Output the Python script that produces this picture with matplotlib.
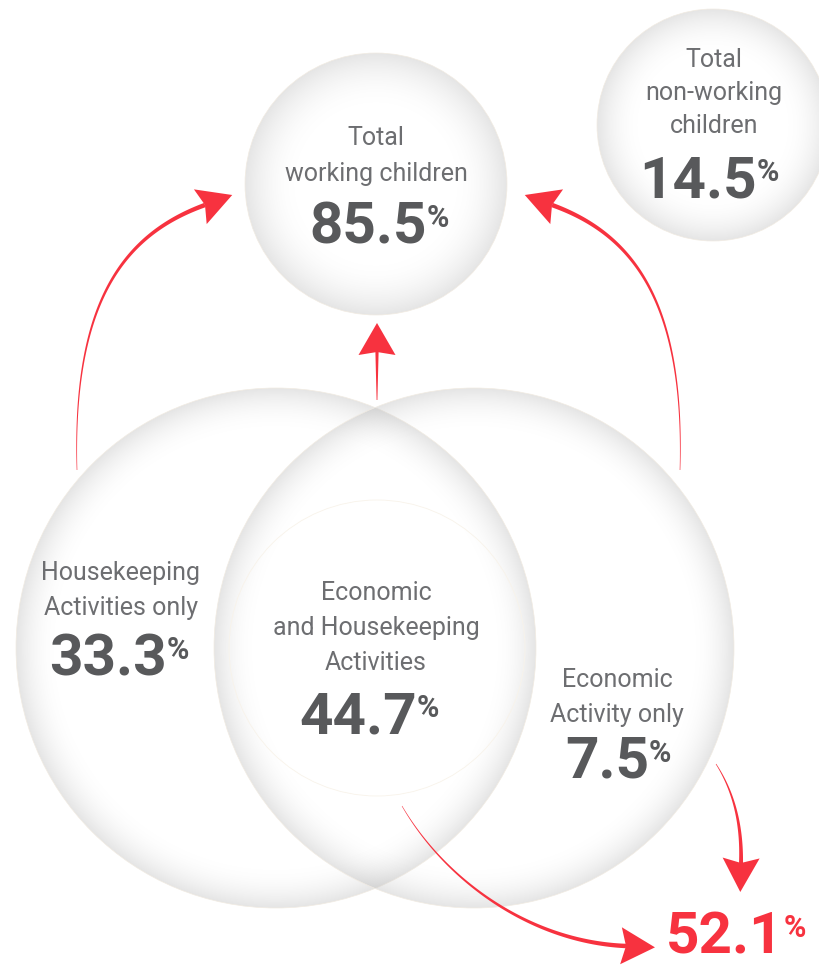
import numpy as np
import matplotlib.pyplot as plt
from matplotlib.patches import Circle, Polygon

# ── Data: share of children by activity (%) ──────────────────────────
group_lines = [
    ["Total", "working children"],
    ["Total", "non-working", "children"],
    ["Housekeeping", "Activities only"],
    ["Economic", "and Housekeeping", "Activities"],
    ["Economic", "Activity only"],
]
group_shares = [85.5, 14.5, 33.3, 44.7, 7.5]
economic_total = 52.1

# ── Layout (pixel coordinates, y downwards) ──────────────────────────
bubble_xy = [(376, 184), (713, 125), (276, 648), (474, 648)]
bubble_r = [131, 116, 260, 260]
bubble_band = [55, 45, 42, 42]

label_x = [376, 714, 121, 376, 617]
label_top = [145, 67, 580, 600, 687]
label_step = [36, 33, 35, 35, 35]
num_x = [427, 757, 167, 417, 649]
num_y = [243, 197, 675, 733, 778]
total_x, total_y = 784, 953

RED = '#f7323f'
LABEL = '#6d6e71'
NUMBER = '#58595b'
FONT = ['Roboto', 'DejaVu Sans']


def bubble(ax, cx, cy, r, band):
    n = 500
    g = np.linspace(-1, 1, n)
    xx, yy = np.meshgrid(g, g)
    t = np.hypot(xx, yy)
    t0 = 1 - band / r
    s = np.clip((t - t0) / (1 - t0), 0, 1) ** 2.0
    img = np.zeros((n, n, 4))
    img[..., :3] = 0.72
    img[..., 3] = 0.36 * s
    im = ax.imshow(img, extent=(cx - r, cx + r, cy + r, cy - r),
                   interpolation='bilinear', aspect='auto', zorder=1)
    im.set_clip_path(Circle((cx, cy), r, transform=ax.transData))
    ax.add_patch(Circle((cx, cy), r, fill=False, ec='#f1ebe2', lw=0.5, zorder=1))


def bezier(P, n=120):
    P = np.asarray(P, float)
    t = np.linspace(0, 1, n)[:, None]
    if len(P) == 2:
        return (1 - t) * P[0] + t * P[1]
    return ((1 - t) ** 3 * P[0] + 3 * (1 - t) ** 2 * t * P[1]
            + 3 * (1 - t) * t ** 2 * P[2] + t ** 3 * P[3])


def arrow(ax, pts, w0, w1, head_len=29, head_back=5, head_w=18.5):
    c = bezier(pts)
    d = np.gradient(c, axis=0)
    d /= np.linalg.norm(d, axis=1)[:, None]
    nrm = np.column_stack([-d[:, 1], d[:, 0]])
    w = np.linspace(w0, w1, len(c))[:, None] / 2
    shaft = np.vstack([c + nrm * w, (c - nrm * w)[::-1]])
    ax.add_patch(Polygon(shaft, closed=True, fc=RED, ec='none', zorder=3))
    e, u, v = c[-1], d[-1], nrm[-1]
    head = [e + u * head_len, e - u * head_back + v * head_w, e,
            e - u * head_back - v * head_w]
    ax.add_patch(Polygon(head, closed=True, fc=RED, ec='none', zorder=3))


fig = plt.figure(figsize=(8.2, 9.67), dpi=100)
ax = fig.add_axes([0, 0, 1, 1])

for (cx, cy), r, band in zip(bubble_xy, bubble_r, bubble_band):
    bubble(ax, cx, cy, r, band)

# faint inner ring of the overlap
ax.add_patch(Circle((377, 648), 148, fill=False, ec='#f8f3ea', lw=0.6, zorder=1))

# arrows
arrow(ax, [(77, 470), (72, 300), (125, 234), (205, 205)], 0.6, 4.5)
arrow(ax, [(680, 470), (685, 300), (632, 234), (552, 205)], 0.6, 4.5)
arrow(ax, [(377, 400), (377, 352)], 0.8, 3.2, head_back=3)
arrow(ax, [(716, 764), (734, 792), (742, 825), (741, 863)], 0.6, 4.0)
arrow(ax, [(402, 806), (445, 880), (530, 942), (626, 946)], 0.5, 4.5)

# labels and shares
for lines, share, lx, ly, step, nx, ny in zip(group_lines, group_shares, label_x,
                                              label_top, label_step, num_x, num_y):
    for i, line in enumerate(lines):
        ax.text(lx, ly + i * step, line, ha='center', va='baseline',
                fontsize=18, family=FONT, color=LABEL, zorder=4)
    ax.text(nx, ny, f'{share:.1f}', ha='right', va='baseline', fontsize=42,
            family=FONT, fontweight='bold', color=NUMBER, zorder=4)
    ax.text(nx, ny - 16, '%', ha='left', va='baseline', fontsize=22,
            family=FONT, fontweight='bold', color=NUMBER, zorder=4)

ax.text(total_x, total_y, f'{economic_total:.1f}', ha='right', va='baseline',
        fontsize=42, family=FONT, fontweight='bold', color=RED, zorder=4)
ax.text(total_x, total_y - 16, '%', ha='left', va='baseline', fontsize=22,
        family=FONT, fontweight='bold', color=RED, zorder=4)

ax.set_xlim(0, 820)
ax.set_ylim(967, 0)
ax.axis('off')

fig.savefig('out.png', dpi=100, facecolor='white')
